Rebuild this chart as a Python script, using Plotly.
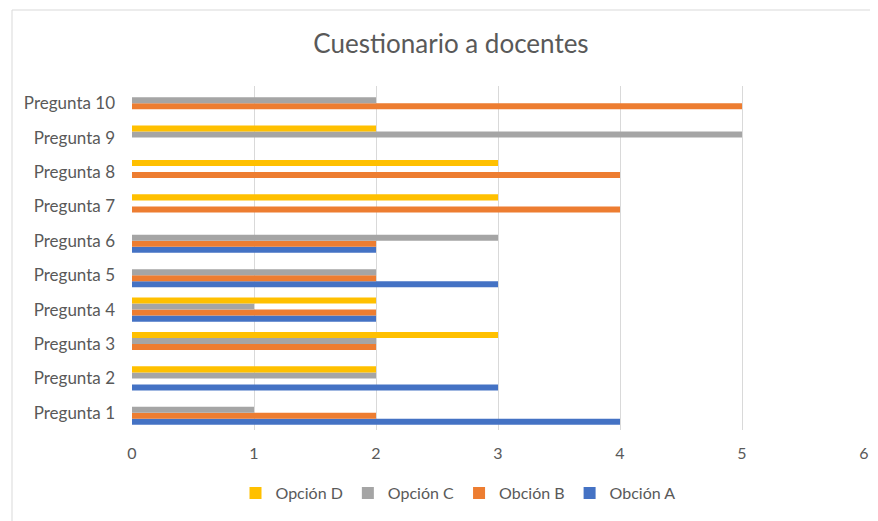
import plotly.graph_objects as go

categories = ["Pregunta 1", "Pregunta 2", "Pregunta 3", "Pregunta 4", "Pregunta 5",
              "Pregunta 6", "Pregunta 7", "Pregunta 8", "Pregunta 9", "Pregunta 10"]
opcion_a = [4, 3, 0, 2, 3, 2, 0, 0, 0, 0]
opcion_b = [2, 0, 2, 2, 2, 2, 4, 4, 0, 5]
opcion_c = [1, 2, 2, 1, 2, 3, 0, 0, 5, 2]
opcion_d = [0, 2, 3, 2, 0, 0, 3, 3, 2, 0]
series_names = ["Obción A", "Obción B", "Opción C", "Opción D"]
colors = ["#4472C4", "#ED7D31", "#A5A5A5", "#FFC000"]
x_ticks = [0, 1, 2, 3, 4, 5, 6]

FONT = "Lato"
TXT = "#595959"

fig = go.Figure()
for name, vals, col in zip(series_names, [opcion_a, opcion_b, opcion_c, opcion_d], colors):
    fig.add_trace(go.Bar(y=categories, x=vals, name=name, orientation="h",
                         marker=dict(color=col, line=dict(width=0))))

OFF = 8  # page body margin
W, H = 878 - OFF, 521 - OFF
ml, mt = 132 - OFF, 86 - OFF
mr = W - (864 - OFF)
mb = H - (430 - OFF)
pw, ph = W - ml - mr, H - mt - mb

def px_x(p):  # page pixel -> paper
    return (p - OFF - ml) / pw

def px_y(p):
    return (H - mb - (p - OFF)) / ph

fig.update_layout(
    width=W, height=H,
    margin=dict(l=ml, r=mr, t=mt, b=mb, autoexpand=False),
    paper_bgcolor="white", plot_bgcolor="white",
    barmode="group", bargap=0.3, bargroupgap=0,
    font=dict(family=FONT, size=16, color=TXT),
    title=dict(text="Cuestionario a docentes", x=(451 - OFF) / W,
               xanchor="center", y=1 - (44 - OFF) / H, yanchor="middle",
               font=dict(family=FONT, size=26, color=TXT)),
    xaxis=dict(range=[0, 6], tickvals=x_ticks, showgrid=True, gridcolor="#D9D9D9",
               gridwidth=1, zeroline=False, showline=False, ticks="",
               tickfont=dict(family=FONT, size=16, color=TXT), ticklabelstandoff=12),
    yaxis=dict(categoryorder="array", categoryarray=categories, showgrid=False,
               zeroline=False, showline=False, ticks="", ticklabelstandoff=16,
               tickfont=dict(family=FONT, size=17, color=TXT)),
    legend=dict(orientation="h", traceorder="reversed", x=(458 - OFF) / W, xref="container",
                xanchor="center", y=1 - (493 - OFF) / H, yref="container", yanchor="middle",
                font=dict(family=FONT, size=16, color=TXT), itemwidth=30),
    showlegend=True,
    shapes=[dict(type="rect", xref="paper", yref="paper",
                 x0=px_x(12), x1=px_x(900), y0=px_y(540), y1=px_y(10),
                 line=dict(color="#D9D9D9", width=1), fillcolor="rgba(0,0,0,0)",
                 layer="below")],
)

fig.write_html("out.html")
